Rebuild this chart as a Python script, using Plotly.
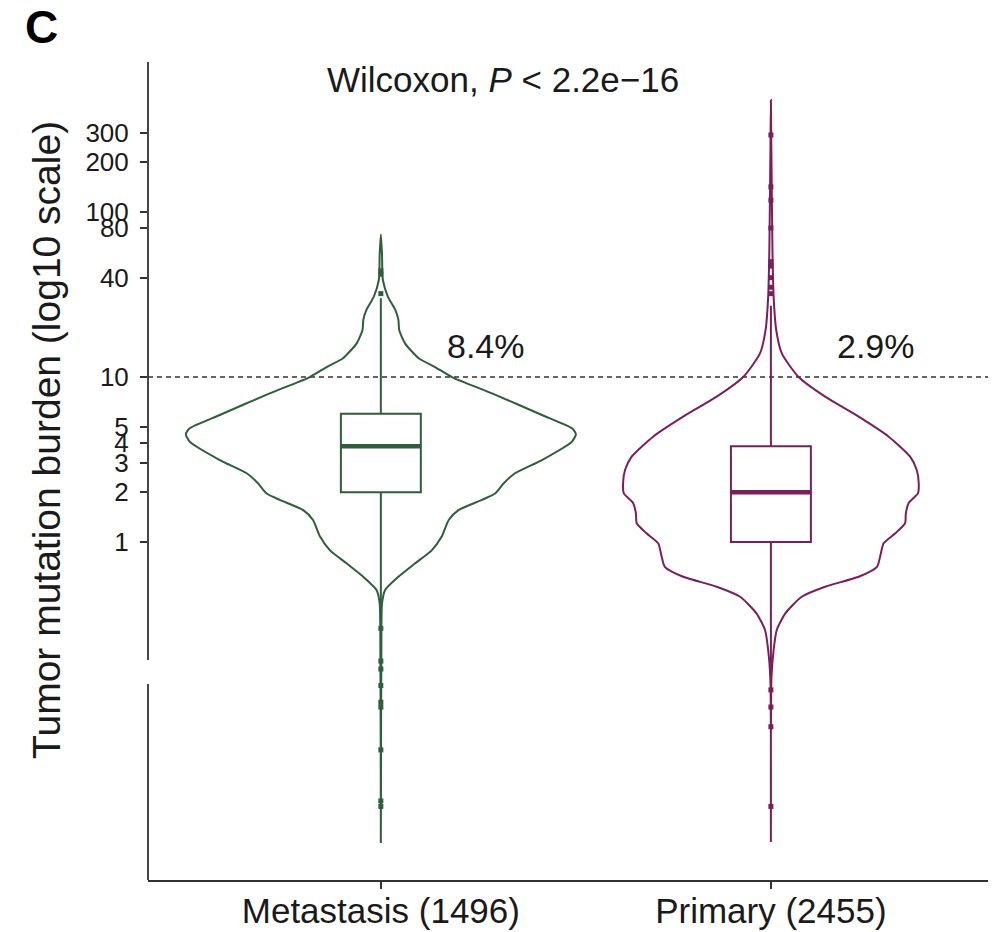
import numpy as np
import plotly.graph_objects as go

# ---------------- data ----------------
categories = ["Metastasis (1496)", "Primary (2455)"]
colors = ["#2f5e3a", "#7a1f5c"]
pct_above_10 = ["8.4%", "2.9%"]
wilcoxon_text = "Wilcoxon, <i>P</i> < 2.2e\u221216"

# violin outlines: TMB value and half-width (x units)
meta_violin_tmb = [73, 55, 39, 30.7, 25.5, 22.2, 19.3, 16.0, 13.0, 11.5, 10.0, 7.96,
                   5.89, 4.89, 4.51, 4.06, 3.14, 2.61, 2.27, 1.97, 1.80, 1.56, 1.36,
                   1.08, 0.894, 0.743, 0.616, 0.512, 0.425, 0.314, 0.015]
meta_violin_halfwidth = [0, 0.003, 0.005, 0.018, 0.037, 0.045, 0.047, 0.062, 0.097,
                         0.139, 0.182, 0.285, 0.413, 0.490, 0.500, 0.490, 0.413,
                         0.344, 0.315, 0.293, 0.259, 0.199, 0.174, 0.156, 0.131,
                         0.088, 0.045, 0.011, 0.003, 0.0015, 0]

prim_violin_tmb = [477, 238, 58.9, 30.7, 19.3, 13.9, 10.0, 7.60, 5.75, 4.35, 3.29,
                   2.73, 2.27, 1.97, 1.72, 1.49, 1.30, 1.13, 0.982, 0.815, 0.708,
                   0.616, 0.536, 0.466, 0.370, 0.293, 0.222, 0.152, 0.0152]
prim_violin_halfwidth = [0, 0.0012, 0.004, 0.007, 0.0136, 0.028, 0.071, 0.139, 0.225,
                         0.302, 0.357, 0.374, 0.379, 0.377, 0.353, 0.346, 0.344,
                         0.319, 0.289, 0.280, 0.272, 0.225, 0.139, 0.079, 0.037,
                         0.015, 0.007, 0.0015, 0]

# box statistics
box_q1 = [2.0, 1.0]
box_median = [3.8, 2.0]
box_q3 = [6.0, 3.8]
box_lowerfence = [0.42, 0.14]
box_upperfence = [30, 27]

# outliers
meta_outliers = [44, 42, 32, 0.30, 0.19, 0.17, 0.135, 0.107, 0.10, 0.055, 0.027, 0.025]
prim_outliers = [293, 142, 118, 80, 50, 47, 40, 35, 32, 0.127, 0.10, 0.076, 0.025]

threshold = 10
ytick_vals = [1, 2, 3, 4, 5, 10, 40, 80, 100, 200, 300]
axis_break = [0.138, 0.193]

# ---------------- style ----------------
FONT = "Liberation Sans, Arial, Helvetica, sans-serif"
TXT = "#1a1a1a"
AX = "#333333"
BOX_WIDTH = 0.205
Y_RANGE = [-2.048, 2.909]
X_RANGE = [-0.597, 1.572]

violins = [(meta_violin_tmb, meta_violin_halfwidth), (prim_violin_tmb, prim_violin_halfwidth)]
outliers = [meta_outliers, prim_outliers]

fig = go.Figure()

for i, (tmb, hw) in enumerate(violins):
    tmb = np.array(tmb, dtype=float)
    hw = np.array(hw, dtype=float)
    xs = np.concatenate([i + hw, (i - hw)[::-1]])
    ys = np.concatenate([tmb, tmb[::-1]])
    fig.add_trace(go.Scatter(
        x=xs, y=ys, mode="lines",
        line=dict(color=colors[i], width=2, shape="spline", smoothing=0.6),
        fill="toself", fillcolor="rgba(255,255,255,0)",
        hoverinfo="skip", showlegend=False))

for i in range(len(categories)):
    fig.add_trace(go.Box(
        x=[i], q1=[box_q1[i]], median=[box_median[i]], q3=[box_q3[i]],
        lowerfence=[box_lowerfence[i]], upperfence=[box_upperfence[i]],
        width=BOX_WIDTH, whiskerwidth=0, fillcolor="white",
        line=dict(color=colors[i], width=2), boxpoints=False, showlegend=False))
    # thicker median bar
    fig.add_trace(go.Scatter(
        x=[i - BOX_WIDTH / 2, i + BOX_WIDTH / 2], y=[box_median[i]] * 2,
        mode="lines", line=dict(color=colors[i], width=4.5),
        hoverinfo="skip", showlegend=False))
    fig.add_trace(go.Scatter(
        x=[i] * len(outliers[i]), y=outliers[i], mode="markers",
        marker=dict(color=colors[i], size=5, symbol="square"),
        hoverinfo="skip", showlegend=False))

def paper_y(v):
    return (np.log10(v) - Y_RANGE[0]) / (Y_RANGE[1] - Y_RANGE[0])

shapes = [
    # dashed threshold line
    dict(type="line", xref="paper", x0=0, x1=1, yref="y", y0=threshold, y1=threshold,
         line=dict(color=AX, width=1.6, dash="5px,4px"), layer="below"),
    # broken y axis line
    dict(type="line", xref="paper", x0=0, x1=0, yref="paper",
         y0=paper_y(axis_break[1]), y1=1, line=dict(color=AX, width=1.8)),
    dict(type="line", xref="paper", x0=0, x1=0, yref="paper",
         y0=0, y1=paper_y(axis_break[0]), line=dict(color=AX, width=1.8)),
]

annotations = [
    dict(text=wilcoxon_text, xref="paper", yref="paper", x=0.4196, y=0.978,
         xanchor="center", yanchor="middle", showarrow=False,
         font=dict(size=35, color=TXT, family=FONT)),
    dict(text="Tumor mutation burden (log10 scale)", xref="paper", yref="paper",
         x=-0.1194, y=0.538, textangle=-90, xanchor="center", yanchor="middle",
         showarrow=False, font=dict(size=39, color=TXT, family=FONT)),
    dict(text="<b>C</b>", xref="paper", yref="paper", x=-0.1253, y=1.043,
         xanchor="center", yanchor="middle", showarrow=False,
         font=dict(size=46, color="#000000", family=FONT)),
]
for i, p in enumerate(pct_above_10):
    annotations.append(dict(
        text=p, xref="x", yref="y", x=i + 0.27, y=np.log10(threshold * 1.55),
        xanchor="center", yanchor="middle", showarrow=False,
        font=dict(size=34, color=TXT, family=FONT)))

# page body has an 8px default margin: figure is sized/offset to compensate
fig.update_layout(
    width=988, height=924,
    margin=dict(l=140, r=2, t=54, b=52, autoexpand=False),
    paper_bgcolor="white", plot_bgcolor="white",
    font=dict(family=FONT, color=TXT),
    shapes=shapes, annotations=annotations,
    xaxis=dict(range=X_RANGE, tickvals=list(range(len(categories))), ticktext=categories,
               showline=True, linecolor=AX, linewidth=1.8, ticks="outside", ticklen=7,
               tickwidth=1.5, tickcolor=AX, showgrid=False, zeroline=False,
               automargin=False, ticklabelstandoff=-8,
               tickfont=dict(size=35, color=TXT, family=FONT)),
    yaxis=dict(type="log", range=Y_RANGE, tickvals=ytick_vals,
               ticktext=[str(v) for v in ytick_vals], showline=False,
               ticks="outside", ticklen=7, tickwidth=1.5, tickcolor=AX,
               showgrid=False, zeroline=False, ticklabelstandoff=6,
               automargin=False,
               tickfont=dict(size=26, color=TXT, family=FONT)),
)

fig.write_html("out.html")
